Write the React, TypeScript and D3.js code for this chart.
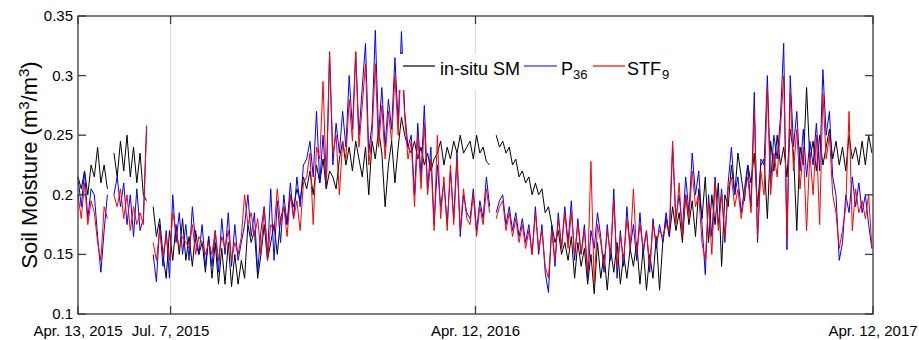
import React from 'react';
import * as d3 from 'd3';

const DAY = 86400000;
const START = Date.UTC(2015, 3, 13);
const END = Date.UTC(2017, 3, 12);
const STEP_DAYS = 3;

// in-situ soil moisture, one value every 3 days from Apr 13 2015 (null = missing)
const insitu: (number | null)[] = [
  0.215, 0.205, 0.22, 0.2, 0.225, 0.215, 0.24, 0.21, 0.225, 0.205,
  null, 0.235, 0.215, 0.245, 0.22, 0.25, 0.215, 0.24, 0.21, 0.235,
  0.2, 0.195, null, 0.19, 0.165, 0.18, 0.15, 0.13, 0.17, 0.145,
  0.175, 0.15, 0.18, 0.145, 0.165, 0.14, 0.17, 0.15, 0.16, 0.135,
  0.165, 0.13, 0.16, 0.125, 0.155, 0.125, 0.16, 0.123, 0.15, 0.125,
  0.145, 0.13, 0.175, 0.16, 0.17, 0.13, 0.15, 0.175, 0.145, 0.16,
  0.175, 0.15, 0.18, 0.19, 0.175, 0.2, 0.19, 0.205, 0.195, 0.215,
  0.205, 0.22, 0.2, 0.225, 0.21, 0.23, 0.205, 0.22, 0.215, 0.205,
  0.23, 0.245, 0.225, 0.24, 0.22, 0.245, 0.23, 0.215, 0.24, 0.2,
  0.245, 0.23, 0.255, 0.235, 0.19, 0.225, 0.245, 0.21, 0.24, 0.265,
  0.25, 0.24, 0.235, 0.245, 0.23, 0.24, 0.225, 0.235, 0.22, 0.23,
  0.235, 0.245, 0.225, 0.24, 0.23, 0.245, 0.235, 0.25, 0.235, 0.24,
  0.245, 0.23, 0.25, 0.235, 0.24, 0.228, 0.225, null, 0.25, 0.24,
  0.245, 0.235, 0.24, 0.225, 0.23, 0.215, 0.22, 0.21, 0.215, 0.2,
  0.21, 0.2, 0.205, 0.185, 0.19, 0.175, 0.16, 0.17, 0.15, 0.16,
  0.145, 0.165, 0.13, 0.16, 0.14, 0.155, 0.125, 0.15, 0.117, 0.16,
  0.13, 0.15, 0.12, 0.155, 0.135, 0.16, 0.125, 0.15, 0.13, 0.155,
  0.14, 0.16, 0.125, 0.155, 0.12, 0.15, 0.13, 0.165, 0.12, 0.16,
  0.18, 0.165, 0.19, 0.17, 0.185, 0.16, 0.2, 0.175, 0.195, 0.165,
  0.205, 0.18, 0.215, 0.16, 0.2, 0.175, 0.21, 0.14, 0.2, 0.19,
  0.225, 0.2, 0.235, 0.215, 0.195, 0.225, 0.21, 0.235, 0.19, 0.225,
  0.23, 0.18, 0.245, 0.22, 0.25, 0.225, 0.24, 0.215, 0.255, 0.235,
  0.17, 0.24, 0.225, 0.29, 0.23, 0.245, 0.22, 0.25, 0.225, 0.24,
  0.255, 0.23, 0.245, 0.225, 0.24, 0.22, 0.25, 0.23, 0.24, 0.225,
  0.245, 0.225, 0.25, 0.235,
];

// P36
const p36: (number | null)[] = [
  0.215, 0.19, 0.22, 0.18, 0.205, 0.2, 0.165, 0.135, 0.17, 0.2,
  null, 0.2, 0.215, 0.19, 0.21, 0.175, 0.2, 0.165, 0.205, 0.17,
  0.18, 0.258, null, 0.15, 0.127, 0.175, 0.14, 0.17, 0.13, 0.2,
  0.16, 0.185, 0.15, 0.175, 0.145, 0.19, 0.16, 0.15, 0.175, 0.14,
  0.165, 0.14, 0.17, 0.135, 0.18, 0.15, 0.185, 0.14, 0.175, 0.145,
  0.16, 0.175, 0.2, 0.165, 0.185, 0.135, 0.17, 0.19, 0.15, 0.205,
  0.145, 0.195, 0.16, 0.2, 0.175, 0.21, 0.18, 0.215, 0.19, 0.225,
  0.23, 0.245, 0.215, 0.27, 0.21, 0.25, 0.205, 0.32, 0.225, 0.26,
  0.235, 0.27, 0.24, 0.3, 0.255, 0.32, 0.25, 0.29, 0.327, 0.235,
  0.26, 0.338, 0.25, 0.29, 0.24, 0.28, 0.255, 0.315, 0.26, 0.337,
  0.27, 0.24, 0.25, 0.2, 0.26, 0.215, 0.275, 0.205, 0.24, 0.175,
  0.225, 0.19, 0.21, 0.175, 0.22, 0.18, 0.235, 0.165, 0.2, 0.185,
  0.18, 0.205, 0.17, 0.195, 0.18, 0.215, 0.19, null, 0.185, 0.195,
  0.2, 0.175, 0.19, 0.17, 0.185, 0.165, 0.18, 0.16, 0.175, 0.15,
  0.19, 0.15, 0.175, 0.135, 0.118, 0.175, 0.14, 0.185, 0.155, 0.19,
  0.16, 0.195, 0.145, 0.18, 0.15, 0.175, 0.13, 0.17, 0.155, 0.185,
  0.165, 0.135, 0.175, 0.145, 0.205, 0.13, 0.17, 0.14, 0.19, 0.155,
  0.175, 0.145, 0.185, 0.15, 0.17, 0.135, 0.18, 0.155, 0.175, 0.16,
  0.185, 0.165, 0.24, 0.18, 0.2, 0.17, 0.215, 0.185, 0.235, 0.2,
  0.22, 0.175, 0.133, 0.2, 0.165, 0.215, 0.175, 0.205, 0.16, 0.21,
  0.24, 0.2, 0.215, 0.185, 0.205, 0.225, 0.19, 0.286, 0.16, 0.23,
  0.225, 0.3, 0.21, 0.25, 0.23, 0.265, 0.327, 0.154, 0.3, 0.24,
  0.27, 0.22, 0.255, 0.215, 0.245, 0.225, 0.26, 0.22, 0.305, 0.25,
  0.27, 0.215, 0.2, 0.145, 0.16, 0.2, 0.185, 0.215, 0.19, 0.21,
  0.185, 0.2, 0.175, 0.155,
];

// STF9
const stf9: (number | null)[] = [
  0.2, 0.18, 0.21, 0.175, 0.195, 0.185, 0.16, 0.145, 0.19, 0.18,
  null, 0.2, 0.19, 0.205, 0.18, 0.2, 0.17, 0.19, 0.175, 0.185,
  0.175, 0.258, null, 0.16, 0.145, 0.17, 0.15, 0.165, 0.145, 0.185,
  0.17, 0.155, 0.165, 0.16, 0.155, 0.175, 0.15, 0.165, 0.16, 0.15,
  0.16, 0.15, 0.17, 0.145, 0.165, 0.155, 0.17, 0.145, 0.16, 0.15,
  0.165, 0.2, 0.175, 0.185, 0.165, 0.18, 0.15, 0.19, 0.145, 0.175,
  0.17, 0.205, 0.175, 0.19, 0.165, 0.2, 0.18, 0.195, 0.17, 0.21,
  0.215, 0.235, 0.175, 0.24, 0.23, 0.295, 0.21, 0.318, 0.235, 0.25,
  0.2, 0.245, 0.23, 0.28, 0.245, 0.32, 0.24, 0.275, 0.31, 0.225,
  0.25, 0.31, 0.24, 0.275, 0.23, 0.27, 0.245, 0.3, 0.25, 0.32,
  0.265, 0.23, 0.245, 0.19, 0.25, 0.205, 0.26, 0.2, 0.23, 0.17,
  0.25, 0.18, 0.215, 0.17, 0.225, 0.175, 0.23, 0.17, 0.205, 0.18,
  0.175, 0.2, 0.165, 0.19, 0.175, 0.205, 0.185, null, 0.18, 0.19,
  0.195, 0.17, 0.185, 0.165, 0.18, 0.16, 0.175, 0.155, 0.17, 0.15,
  0.185, 0.155, 0.17, 0.14, 0.13, 0.17, 0.145, 0.18, 0.155, 0.185,
  0.155, 0.185, 0.15, 0.175, 0.15, 0.17, 0.135, 0.228, 0.125, 0.175,
  0.16, 0.14, 0.17, 0.15, 0.195, 0.14, 0.165, 0.145, 0.18, 0.155,
  0.205, 0.15, 0.175, 0.155, 0.17, 0.14, 0.175, 0.16, 0.17, 0.165,
  0.175, 0.17, 0.245, 0.175, 0.21, 0.165, 0.2, 0.18, 0.22, 0.19,
  0.2, 0.16, 0.145, 0.195, 0.15, 0.21, 0.17, 0.2, 0.165, 0.205,
  0.215, 0.19, 0.205, 0.18, 0.2, 0.215, 0.185, 0.27, 0.165, 0.22,
  0.2, 0.29, 0.2, 0.235, 0.215, 0.255, 0.3, 0.165, 0.285, 0.22,
  0.255, 0.205, 0.24, 0.17, 0.235, 0.2, 0.25, 0.175, 0.285, 0.23,
  0.25, 0.2, 0.185, 0.155, 0.17, 0.19, 0.27, 0.17, 0.205, 0.185,
  0.195, 0.18, 0.2, 0.155,
];

const xTickDates = [
  new Date(Date.UTC(2015, 3, 13)),
  new Date(Date.UTC(2015, 6, 7)),
  new Date(Date.UTC(2016, 3, 12)),
  new Date(Date.UTC(2017, 3, 12)),
];
const xTickLabels = ['Apr. 13, 2015', 'Jul. 7, 2015', 'Apr. 12, 2016', 'Apr. 12, 2017'];
const gridDates = [new Date(Date.UTC(2015, 6, 7)), new Date(Date.UTC(2016, 3, 12))];
const yTicks = [0.1, 0.15, 0.2, 0.25, 0.3, 0.35];
const yTickLabels = ['0.1', '0.15', '0.2', '0.25', '0.3', '0.35'];

const FONT = "'Liberation Sans', Arial, Helvetica, sans-serif";

export default function App() {
  const W = 919, H = 340;
  const left = 78, right = 873, top = 16, bottom = 314;
  const x = d3.scaleUtc().domain([new Date(START), new Date(END)]).range([left, right]);
  const y = d3.scaleLinear().domain([0.1, 0.35]).range([bottom, top]);
  const dateOf = (i: number) => new Date(START + i * STEP_DAYS * DAY);
  const line = d3
    .line<number | null>()
    .defined((v) => v != null)
    .x((_, i) => x(dateOf(i)))
    .y((v) => y(v as number));

  const series = [
    { data: insitu, color: '#000000' },
    { data: p36, color: '#0000ff' },
    { data: stf9, color: '#ff0000' },
  ];
  const axisColor = '#3a3a3a';
  const tickLen = 8;

  return (
    <svg
      width={W}
      height={H}
      style={{ position: 'absolute', left: 0, top: 0, background: '#fff' }}
      fontFamily={FONT}
    >
      <rect x={0} y={0} width={W} height={H} fill="#fff" />
      {gridDates.map((d, i) => (
        <line key={i} x1={x(d)} x2={x(d)} y1={top} y2={bottom} stroke="#dcdcdc" strokeWidth={1} />
      ))}
      {series.map((s, i) => (
        <path key={i} d={line(s.data) || ''} fill="none" stroke={s.color} strokeWidth={1} strokeLinejoin="round" />
      ))}

      {/* legend */}
      <g>
        <rect x={397} y={54} width={283} height={36} fill="#fff" />
        <line x1={403} x2={435} y1={66} y2={66} stroke="#000" strokeWidth={1.2} />
        <text x={440} y={75} fontSize={18} fill="#000">in-situ SM</text>
        <line x1={524} x2={557} y1={66} y2={66} stroke="#0000ff" strokeWidth={1.2} />
        <text x={561} y={75} fontSize={18} fill="#000">P</text>
        <text x={573} y={78.5} fontSize={13} fill="#000">36</text>
        <line x1={593} x2={625} y1={66} y2={66} stroke="#ff0000" strokeWidth={1.2} />
        <text x={627} y={75} fontSize={18} fill="#000">STF</text>
        <text x={662} y={78.5} fontSize={13} fill="#000">9</text>
      </g>

      {/* axes box */}
      <rect x={left} y={top} width={right - left} height={bottom - top} fill="none" stroke={axisColor} strokeWidth={1.3} />
      {yTicks.map((v, i) => (
        <g key={i}>
          <line x1={left} x2={left + tickLen} y1={y(v)} y2={y(v)} stroke={axisColor} strokeWidth={1.3} />
          <line x1={right} x2={right - tickLen} y1={y(v)} y2={y(v)} stroke={axisColor} strokeWidth={1.3} />
          <text x={left - 5} y={y(v)} dy="0.33em" textAnchor="end" fontSize={15} fill="#000">
            {yTickLabels[i]}
          </text>
        </g>
      ))}
      {xTickDates.map((d, i) => (
        <g key={i}>
          <line x1={x(d)} x2={x(d)} y1={bottom} y2={bottom - tickLen} stroke={axisColor} strokeWidth={1.3} />
          <line x1={x(d)} x2={x(d)} y1={top} y2={top + tickLen} stroke={axisColor} strokeWidth={1.3} />
          <text x={x(d)} y={336} textAnchor="middle" fontSize={15} fill="#000">
            {xTickLabels[i]}
          </text>
        </g>
      ))}
      <text transform={`translate(37,${(top + bottom) / 2}) rotate(-90)`} textAnchor="middle" fontSize={22} fill="#000">
        Soil Moisture (m<tspan dy={-8} fontSize={15}>3</tspan>
        <tspan dy={8}>/m</tspan>
        <tspan dy={-8} fontSize={15}>3</tspan>
        <tspan dy={8}>)</tspan>
      </text>
    </svg>
  );
}
